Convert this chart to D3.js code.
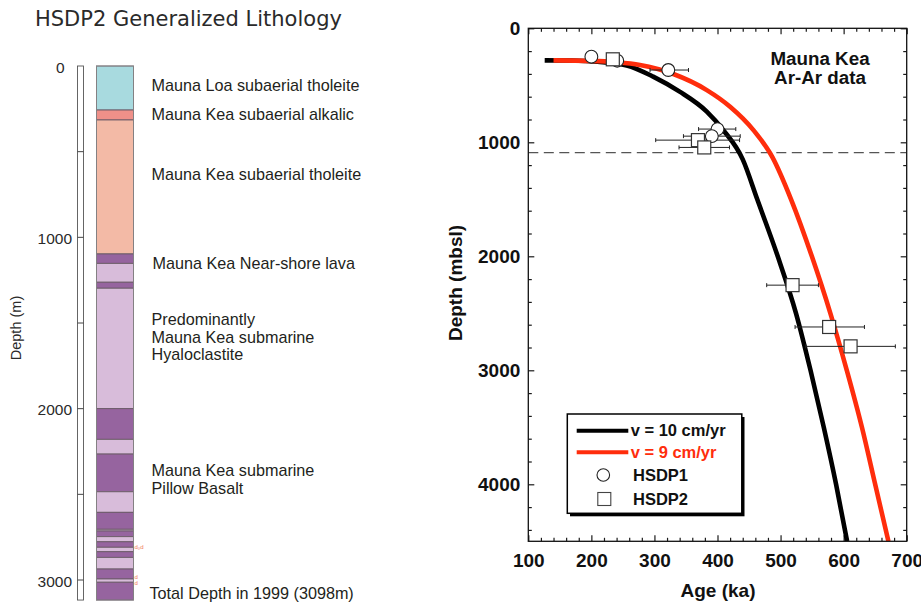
<!DOCTYPE html>
<html>
<head>
<meta charset="utf-8">
<script src="https://cdn.jsdelivr.net/npm/d3@7"></script>
<style>
  html, body { margin: 0; padding: 0; background: #fff; }
  svg { display: block; }
</style>
</head>
<body>
<svg id="chart" width="921" height="603"></svg>
<script>
// ---------------- DATA ----------------
// Left panel: HSDP2 lithology column (depth in m)
const lithoTops  = [0, 257, 315, 1097, 1152, 1262, 1297, 2000, 2179, 2265, 2485, 2605, 2704, 2714, 2747, 2777, 2809, 2835, 2868, 2936, 2994, 3013];
const lithoBottom = 3117;
const lithoKinds = ["loa", "alk", "thol", "dark", "light", "dark", "light", "dark", "light", "dark", "light", "dark", "light", "dark", "light", "dark", "light", "dark", "light", "dark", "light", "dark"];
const lithoColors = { loa: "#a8dadf", alk: "#ef9089", thol: "#f3baa6", dark: "#96649f", light: "#d8bcda" };
const columnTicks = [0, 1000, 2000, 3000];
const columnMinorTicks = [500, 1000, 1500, 2000, 2500, 3000];
const unitLabels = [
  { lines: ["Mauna Loa subaerial tholeite"], y: 90.7 },
  { lines: ["Mauna Kea subaerial alkalic"], y: 120 },
  { lines: ["Mauna Kea subaerial tholeite"], y: 180 },
  { lines: ["Mauna Kea Near-shore lava"], y: 268.5, dx: 1 },
  { lines: ["Predominantly", "Mauna Kea submarine", "Hyaloclastite"], y: 325 },
  { lines: ["Mauna Kea submarine", "Pillow Basalt"], y: 476 },
  { lines: ["Total Depth in 1999 (3098m)"], y: 599, dx: -2 }
];
const dMarkDepths = [2808, 2980, 3015];
const dMarkTexts = ["d\u2080d", "d", "d"];

// Right panel: model curves (age ka, depth mbsl)
const v10Age   = [126, 170, 210, 256, 298, 340, 383, 409, 440, 463, 495.5, 524.5, 547.5, 568.5, 588, 605.5];
const v10Depth = [281, 283, 294, 326, 424, 556, 731, 892, 1150, 1500, 2000, 2500, 3000, 3500, 4000, 4500];
const v9Age    = [140, 200, 240, 277, 330, 383, 420, 457, 487, 516.6, 549.6, 579, 605, 629, 650, 671];
const v9Depth  = [281, 286, 298, 322, 401, 542, 688, 893, 1130, 1500, 2000, 2500, 3000, 3500, 4000, 4500];

// Ar-Ar data points
const hsdp1Age   = [200, 241, 322, 400, 391];
const hsdp1Depth = [249, 284, 366, 884, 946];
const hsdp1ErrLo = [200, 241, 293, 370, 346];
const hsdp1ErrHi = [200, 241, 354, 429, 436];
const hsdp2Age   = [234, 369, 379, 519, 577, 611];
const hsdp2Depth = [272, 981, 1045, 2253, 2620, 2790];
const hsdp2ErrLo = [234, 302, 339, 478, 523, 540];
const hsdp2ErrHi = [234, 435, 419, 560, 633, 682];

const basalDepth = 1090;
const ageTicks = [100, 200, 300, 400, 500, 600, 700];
const depthTicks = [0, 1000, 2000, 3000, 4000];

// ---------------- DRAW ----------------
const svg = d3.select("#chart");
const RED = "#ff2d0c";

// ===== Left panel =====
const yL = d3.scaleLinear().domain([0, 3000]).range([66, 580]);
const colX0 = 96.5, colX1 = 133.5;

svg.append("text")
  .attr("x", 35).attr("y", 26)
  .attr("font-family", "'DejaVu Sans', 'Liberation Sans', sans-serif")
  .attr("font-size", 21)
  .attr("fill", "#2a2a2a")
  .text("HSDP2 Generalized Lithology");

const layers = lithoTops.map((t, i) => ({
  top: t,
  bottom: i < lithoTops.length - 1 ? lithoTops[i + 1] : lithoBottom,
  kind: lithoKinds[i]
}));

svg.append("g").selectAll("rect").data(layers).join("rect")
  .attr("x", colX0).attr("width", colX1 - colX0)
  .attr("y", d => yL(d.top))
  .attr("height", d => yL(d.bottom) - yL(d.top))
  .attr("fill", d => lithoColors[d.kind])
  .attr("stroke", "#6a5a66").attr("stroke-width", 0.9);

svg.append("rect")
  .attr("x", colX0).attr("width", colX1 - colX0)
  .attr("y", yL(0)).attr("height", yL(lithoBottom) - yL(0))
  .attr("fill", "none").attr("stroke", "#888").attr("stroke-width", 0.8);

// scale bar
svg.append("rect")
  .attr("x", 77.5).attr("width", 6)
  .attr("y", yL(0)).attr("height", yL(lithoBottom) - yL(0))
  .attr("fill", "#fff").attr("stroke", "#555").attr("stroke-width", 0.9);
svg.append("g").selectAll("line").data(columnMinorTicks).join("line")
  .attr("x1", 77.5).attr("x2", 83.5)
  .attr("y1", d => yL(d)).attr("y2", d => yL(d))
  .attr("stroke", "#444").attr("stroke-width", 1);

svg.append("g").selectAll("text").data(columnTicks).join("text")
  .attr("x", d => d === 0 ? 64.5 : 72)
  .attr("y", d => yL(d) + 2.5)
  .attr("text-anchor", "end")
  .attr("dominant-baseline", "middle")
  .attr("font-family", "'Liberation Sans', Arial, sans-serif")
  .attr("font-size", 15.5)
  .attr("fill", "#2a2a2a")
  .text(d => d);

svg.append("text")
  .attr("transform", "translate(21,328) rotate(-90)")
  .attr("text-anchor", "middle")
  .attr("font-family", "'Liberation Sans', Arial, sans-serif")
  .attr("font-size", 14.5)
  .attr("fill", "#2a2a2a")
  .text("Depth (m)");

const lbl = svg.append("g")
  .attr("font-family", "'Liberation Sans', Arial, sans-serif")
  .attr("font-size", 16.2)
  .attr("fill", "#231f20");
unitLabels.forEach(u => {
  const t = lbl.append("text").attr("x", 151.5 + (u.dx || 0)).attr("y", u.y);
  u.lines.forEach((ln, i) => {
    t.append("tspan").attr("x", 151.5 + (u.dx || 0)).attr("dy", i === 0 ? 0 : 17.7).text(ln);
  });
});

svg.append("g").selectAll("text").data(dMarkDepths).join("text")
  .attr("x", 134.5).attr("y", d => yL(d) + 2)
  .attr("font-family", "'Liberation Sans', Arial, sans-serif")
  .attr("font-size", 6)
  .attr("fill", "#f07a5a")
  .text((d, i) => dMarkTexts[i]);

// ===== Right panel =====
const x = d3.scaleLinear().domain([100, 700]).range([528.3, 906.7]);
const y = d3.scaleLinear().domain([0, 4500]).range([28.3, 541.3]);
const FONT = "'Liberation Sans', Arial, Helvetica, sans-serif";

const minorAge = d3.range(100, 701, 20).filter(v => v % 100 !== 0);
const minorDepth = d3.range(0, 4501, 200).filter(v => v % 1000 !== 0);

function styleAxis(g) {
  g.select(".domain").remove();
  g.selectAll(".tick line").attr("stroke", "#1a1a1a").attr("stroke-width", 1.2);
  g.selectAll("text").attr("font-family", FONT).attr("font-size", 19).attr("font-weight", "bold").attr("fill", "#111");
}

// major + minor ticks, inward, all four sides
svg.append("g").attr("transform", `translate(0,${y.range()[1]})`)
  .call(d3.axisBottom(x).tickValues(ageTicks).tickSize(-6).tickSizeOuter(0).tickPadding(12).tickFormat(d3.format("d")))
  .call(styleAxis);
svg.append("g").attr("transform", `translate(0,${y.range()[1]})`)
  .call(d3.axisBottom(x).tickValues(minorAge).tickSize(-3.5).tickSizeOuter(0).tickFormat(""))
  .call(styleAxis);
svg.append("g").attr("transform", `translate(0,${y.range()[0]})`)
  .call(d3.axisTop(x).tickValues(ageTicks).tickSize(-6).tickSizeOuter(0).tickFormat(""))
  .call(styleAxis);
svg.append("g").attr("transform", `translate(0,${y.range()[0]})`)
  .call(d3.axisTop(x).tickValues(minorAge).tickSize(-3.5).tickSizeOuter(0).tickFormat(""))
  .call(styleAxis);
svg.append("g").attr("transform", `translate(${x.range()[0]},0)`)
  .call(d3.axisLeft(y).tickValues(depthTicks).tickSize(-6).tickSizeOuter(0).tickPadding(8).tickFormat(d3.format("d")))
  .call(styleAxis);
svg.append("g").attr("transform", `translate(${x.range()[0]},0)`)
  .call(d3.axisLeft(y).tickValues(minorDepth).tickSize(-3.5).tickSizeOuter(0).tickFormat(""))
  .call(styleAxis);
svg.append("g").attr("transform", `translate(${x.range()[1]},0)`)
  .call(d3.axisRight(y).tickValues(depthTicks).tickSize(-6).tickSizeOuter(0).tickFormat(""))
  .call(styleAxis);
svg.append("g").attr("transform", `translate(${x.range()[1]},0)`)
  .call(d3.axisRight(y).tickValues(minorDepth).tickSize(-3.5).tickSizeOuter(0).tickFormat(""))
  .call(styleAxis);

// clip
svg.append("defs").append("clipPath").attr("id", "plotclip")
  .append("rect")
  .attr("x", x.range()[0]).attr("y", y.range()[0])
  .attr("width", x.range()[1] - x.range()[0])
  .attr("height", y.range()[1] - y.range()[0]);

const plot = svg.append("g").attr("clip-path", "url(#plotclip)");

// dashed line at 1090 m
plot.append("line")
  .attr("x1", x.range()[0]).attr("x2", x.range()[1])
  .attr("y1", y(basalDepth)).attr("y2", y(basalDepth))
  .attr("stroke", "#555").attr("stroke-width", 1.2)
  .attr("stroke-dasharray", "10,5.5");

const line = d3.line().x(d => x(d[0])).y(d => y(d[1])).curve(d3.curveMonotoneX);
plot.append("path")
  .datum(v10Age.map((a, i) => [a, v10Depth[i]]))
  .attr("d", line).attr("fill", "none").attr("stroke", "#000").attr("stroke-width", 4.6);
plot.append("path")
  .datum(v9Age.map((a, i) => [a, v9Depth[i]]))
  .attr("d", line).attr("fill", "none").attr("stroke", RED).attr("stroke-width", 4.6);

// error bars
function errorBars(ages, depths, lo, hi) {
  const g = plot.append("g").attr("stroke", "#222").attr("stroke-width", 1);
  ages.forEach((a, i) => {
    if (hi[i] - lo[i] <= 0) return;
    const yy = y(depths[i]);
    g.append("line").attr("x1", x(lo[i])).attr("x2", x(hi[i])).attr("y1", yy).attr("y2", yy);
    g.append("line").attr("x1", x(lo[i])).attr("x2", x(lo[i])).attr("y1", yy - 2).attr("y2", yy + 2);
    g.append("line").attr("x1", x(hi[i])).attr("x2", x(hi[i])).attr("y1", yy - 2).attr("y2", yy + 2);
  });
}
errorBars(hsdp1Age, hsdp1Depth, hsdp1ErrLo, hsdp1ErrHi);
errorBars(hsdp2Age, hsdp2Depth, hsdp2ErrLo, hsdp2ErrHi);

plot.append("g").selectAll("circle").data(hsdp1Age).join("circle")
  .attr("cx", d => x(d)).attr("cy", (d, i) => y(hsdp1Depth[i]))
  .attr("r", 6.4)
  .attr("fill", "#fff").attr("stroke", "#222").attr("stroke-width", 1.1);

const SQ = 13;
plot.append("g").selectAll("rect").data(hsdp2Age).join("rect")
  .attr("x", d => x(d) - SQ / 2).attr("y", (d, i) => y(hsdp2Depth[i]) - SQ / 2)
  .attr("width", SQ).attr("height", SQ)
  .attr("fill", "#fff").attr("stroke", "#333").attr("stroke-width", 1.2);

// frame
svg.append("rect")
  .attr("x", x.range()[0]).attr("y", y.range()[0])
  .attr("width", x.range()[1] - x.range()[0])
  .attr("height", y.range()[1] - y.range()[0])
  .attr("fill", "none").attr("stroke", "#111").attr("stroke-width", 1.3);

// annotation
svg.append("text")
  .attr("x", 820).attr("y", 65)
  .attr("text-anchor", "middle")
  .attr("font-family", FONT).attr("font-weight", "bold").attr("font-size", 18.8)
  .attr("fill", "#111")
  .text("Mauna Kea");
svg.append("text")
  .attr("x", 820).attr("y", 84.3)
  .attr("text-anchor", "middle")
  .attr("font-family", FONT).attr("font-weight", "bold").attr("font-size", 18.8)
  .attr("fill", "#111")
  .text("Ar-Ar data");

// axis titles
svg.append("text")
  .attr("x", 718).attr("y", 597)
  .attr("text-anchor", "middle")
  .attr("font-family", FONT).attr("font-weight", "bold").attr("font-size", 19)
  .attr("fill", "#111")
  .text("Age (ka)");
svg.append("text")
  .attr("transform", "translate(462,283) rotate(-90)")
  .attr("text-anchor", "middle")
  .attr("font-family", FONT).attr("font-weight", "bold").attr("font-size", 19)
  .attr("fill", "#111")
  .text("Depth (mbsl)");

// legend
const lg = svg.append("g");
lg.append("rect").attr("x", 570).attr("y", 417).attr("width", 174.5).attr("height", 99.3).attr("fill", "#000");
lg.append("rect").attr("x", 567.3).attr("y", 414).attr("width", 174.5).attr("height", 99.3)
  .attr("fill", "#fff").attr("stroke", "#000").attr("stroke-width", 1.5);

const legendItems = [
  { type: "line", color: "#000", label: "v = 10 cm/yr", y: 430.7, textColor: "#111" },
  { type: "line", color: RED, label: "v = 9 cm/yr", y: 452.3, textColor: RED },
  { type: "circle", label: "HSDP1", y: 475, textColor: "#111" },
  { type: "square", label: "HSDP2", y: 499, textColor: "#111" }
];
legendItems.forEach(it => {
  if (it.type === "line") {
    lg.append("line").attr("x1", 576.7).attr("x2", 628.3).attr("y1", it.y).attr("y2", it.y)
      .attr("stroke", it.color).attr("stroke-width", 4);
    lg.append("text").attr("x", 630.7).attr("y", it.y + 5.6)
      .attr("font-family", FONT).attr("font-weight", "bold").attr("font-size", 16.5)
      .attr("fill", it.textColor).text(it.label);
  } else {
    if (it.type === "circle") {
      lg.append("circle").attr("cx", 603.3).attr("cy", it.y).attr("r", 6.3)
        .attr("fill", "#fff").attr("stroke", "#222").attr("stroke-width", 1.1);
    } else {
      lg.append("rect").attr("x", 604.3 - 6.5).attr("y", it.y - 6.5).attr("width", 13).attr("height", 13)
        .attr("fill", "#fff").attr("stroke", "#444").attr("stroke-width", 1.1);
    }
    lg.append("text").attr("x", 633).attr("y", it.y + 6)
      .attr("font-family", FONT).attr("font-weight", "bold").attr("font-size", 16.5)
      .attr("fill", it.textColor).text(it.label);
  }
});
</script>
</body>
</html>
